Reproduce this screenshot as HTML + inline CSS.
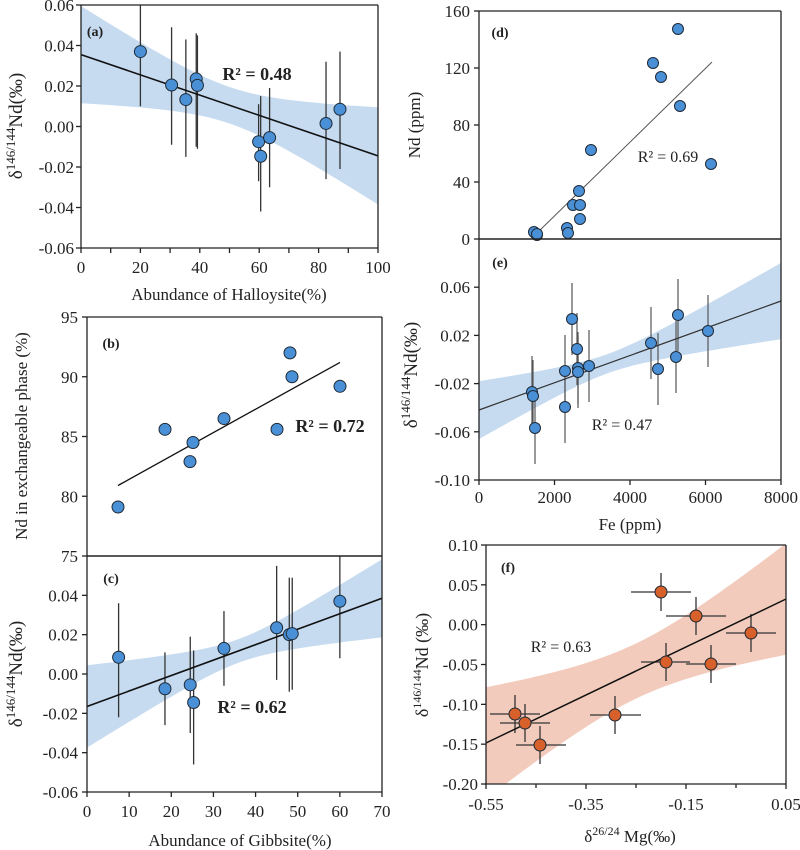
<!DOCTYPE html>
<html><head><meta charset="utf-8"><style>
html,body{margin:0;padding:0;background:#fff}
svg{display:block}
text{font-family:"Liberation Serif",serif;fill:#222}
</style></head><body>
<svg id="s" width="800" height="850" xmlns="http://www.w3.org/2000/svg"></svg>
<script>
var S=document.getElementById('s'),NS='http://www.w3.org/2000/svg';
function el(t,a,txt){var e=document.createElementNS(NS,t);for(var k in a)e.setAttribute(k,a[k]);if(txt!=null)e.textContent=txt;S.appendChild(e);return e;}
function line(x1,y1,x2,y2,c,w){el('line',{x1:x1,y1:y1,x2:x2,y2:y2,stroke:c||'#222','stroke-width':w||1.3});}
function txt(x,y,s,o){o=o||{};var a={x:x,y:y,'font-size':o.fs||17,'text-anchor':o.a||'middle'};if(o.b)a['font-weight']='bold';el('text',a,s);}
function band(X,Y,x0,x1,f,hw,col,clip){var up=[],lo=[];for(var i=0;i<=60;i++){var x=x0+(x1-x0)*i/60;up.push(X(x)+','+Y(f(x)+hw(x)));lo.unshift(X(x)+','+Y(f(x)-hw(x)));}
var p=el('polygon',{points:up.concat(lo).join(' '),fill:col});if(clip)p.setAttribute('clip-path','url(#'+clip+')');}
function clipRect(id,x,y,w,h){var d=el('defs',{});var c=document.createElementNS(NS,'clipPath');c.setAttribute('id',id);var r=document.createElementNS(NS,'rect');r.setAttribute('x',x);r.setAttribute('y',y);r.setAttribute('width',w);r.setAttribute('height',h);c.appendChild(r);d.appendChild(c);}
function dot(x,y,c,r){el('circle',{cx:x,cy:y,r:r||6,fill:c||'#4a90d6',stroke:'#1f2a36','stroke-width':1});}
var BAND='#c6dbf0';

/* ---------- Panel a ---------- */
(function(){
var X=function(v){return 81+v*2.97},Y=function(v){return 5+(0.06-v)*2025};
clipRect('ca',81,5,297,243);
var f=function(x){return 0.0355-0.0005*x},hw=function(x){return Math.sqrt(0.000081+1.98e-7*(x-50)*(x-50))};
band(X,Y,0,100,f,hw,BAND,'ca');
var d=[[20,.037,.010,.07],[30.5,.0205,-.009,.049],[35.3,.0133,-.015,.043],[38.8,.0235,-.010,.046],[39.2,.0203,-.011,.045],[59.8,-.0075,-.027,.011],[60.5,-.0147,-.042,.015],[63.5,-.0055,-.030,.019],[82.5,.0015,-.026,.032],[87.2,.0085,-.021,.037]];
d.forEach(function(p){line(X(p[0]),Math.max(5,Y(p[3])),X(p[0]),Y(p[2]),'#333',1.3)});
line(X(0),Y(f(0)),X(100),Y(f(100)),'#111',1.6);
d.forEach(function(p){dot(X(p[0]),Y(p[1]))});
line(81,5,81,248);line(81,248,378,248);line(378,5,378,248);line(81,5,378,5);
for(var i=0;i<=6;i++){var v=0.06-i*0.02,y=Y(v);line(76,y,81,y);txt(74,y+6,(v<-1e-9?'-':'')+Math.abs(v).toFixed(2),{a:'end'});}
for(var i=0;i<=10;i++){var x=X(i*10);line(x,248,x,253);if(i%2==0)txt(x,273,String(i*10));}
txt(229,300,'Abundance of Halloysite(%)');
txt(95,36,'(a)',{fs:14,b:1});
txt(257,80,'R² = 0.48',{fs:18,b:1});
var t=el('text',{transform:'translate(22,126) rotate(-90)','text-anchor':'middle','font-size':19});
t.innerHTML='δ<tspan font-size="13" dy="-7">146/144</tspan><tspan dy="7">Nd(‰)</tspan>';
})();

/* ---------- Panel b ---------- */
(function(){
var X=function(v){return 87+v*295/70},Y=function(v){return 317+(95-v)*11.95};
line(118,Y(80.9),340,Y(91.2),'#111',1.3);
[[118,79.1],[165,85.6],[190,82.9],[193,84.5],[224,86.5],[277,85.6],[290,92],[292,90],[340,89.2]].forEach(function(p){dot(p[0],Y(p[1]))});
line(87,317,87,556);line(382,317,382,556);line(87,317,382,317);
for(var i=0;i<=4;i++){var v=95-i*5,y=Y(v);line(82,y,87,y);txt(78,y+6,String(v),{a:'end'});}
txt(111,348,'(b)',{fs:14,b:1});
txt(330,432,'R² = 0.72',{fs:18,b:1});
el('text',{transform:'translate(27,436) rotate(-90)','text-anchor':'middle','font-size':17},'Nd in exchangeable phase (%)');
})();

/* ---------- Panel c ---------- */
(function(){
var X=function(v){return 87+v*295/70},Y=function(v){return 556+(0.06-v)*(236/0.12)};
clipRect('cc',87,556,295,236);
var f=function(x){return -0.0165+0.0055*x/7},hw=function(x){return Math.sqrt(0.000036+3.1e-7*(x-36)*(x-36))};
band(X,Y,0,70,f,hw,BAND,'cc');
var d=[[7.5,.0085,-.022,.036],[18.5,-.0075,-.026,.011],[24.5,-.0055,-.030,.019],[25.3,-.0145,-.046,.012],[32.5,.013,-.006,.032],[45,.0235,-.003,.055],[48,.020,-.009,.049],[48.7,.0205,-.008,.049],[60,.037,.008,.07]];
d.forEach(function(p){line(X(p[0]),Math.max(556,Y(p[3])),X(p[0]),Y(p[2]),'#333',1.3)});
line(X(0),Y(f(0)),X(70),Y(f(70)),'#111',1.6);
d.forEach(function(p){dot(X(p[0]),Y(p[1]))});
line(87,556,87,792);line(87,792,382,792);line(382,556,382,792);line(87,556,382,556,'#222',1.5);
[0.04,0.02,0,-0.02,-0.04,-0.06].forEach(function(v){var y=Y(v);line(82,y,87,y);txt(78,y+6,(v<-1e-9?'-':'')+Math.abs(v).toFixed(2),{a:'end'});});
for(var i=0;i<=7;i++){var x=X(i*10);line(x,792,x,797);txt(x,817,String(i*10));}
txt(240,846,'Abundance of Gibbsite(%)');
txt(111,583,'(c)',{fs:14,b:1});
txt(252,713,'R² = 0.62',{fs:18,b:1});
var t=el('text',{transform:'translate(22,674) rotate(-90)','text-anchor':'middle','font-size':19});
t.innerHTML='δ<tspan font-size="13" dy="-7">146/144</tspan><tspan dy="7">Nd(‰)</tspan>';
})();

/* ---------- Panel d ---------- */
(function(){
var Y=function(v){return 239-v*228/160};
line(536,234,712,62,'#555',1);
[[678,29],[653,63],[661,77],[680,106],[711,164],[591,150],[579,191],[573,205],[580,205],[580,219],[567,228],[568,233],[535,233],[537,235],[534,232],[537,234]].forEach(function(p){dot(p[0],p[1],null,5.5)});
line(479,11,479,239);line(781,11,781,239);line(479,11,781,11);line(479,239,781,239,'#222',1.5);
for(var i=0;i<=4;i++){var v=i*40,y=Y(v);line(474,y,479,y);txt(470,y+6,String(v),{a:'end'});}
txt(500,37,'(d)',{fs:14,b:1});
txt(668,162,'R² = 0.69',{fs:16});
el('text',{transform:'translate(420,125) rotate(-90)','text-anchor':'middle','font-size':17},'Nd  (ppm)');
})();

/* ---------- Panel e ---------- */
(function(){
var X=function(v){return 479+v*302/8000},Y=function(v){return 239+(0.10-v)*1205};
clipRect('ce',479,239,302,241);
var f=function(x){return -0.042+0.0905*x/8000},hw=function(x){return Math.sqrt(6.4e-5+4.43e-11*(x-3400)*(x-3400))};
band(X,Y,0,8000,f,hw,BAND,'ce');
var d=[[532,392],[533,396],[535,428],[572,319],[565,371],[565,407],[577,349],[578,368],[578,372],[589,366],[651,343],[658,369],[676,357],[678,315],[708,331]];
d.forEach(function(p){line(p[0],p[1]-36,p[0],p[1]+36,'#555',1.2)});
line(479,410,781,301,'#333',1.2);
d.forEach(function(p){dot(p[0],p[1],null,5.5)});
line(479,239,479,480);line(479,480,781,480);line(781,239,781,480);
[0.06,0.02,-0.02,-0.06,-0.10].forEach(function(v){var y=Y(v);line(474,y,479,y);txt(470,y+6,(v<-1e-9?'-':'')+Math.abs(v).toFixed(2),{a:'end'});});
for(var i=0;i<=4;i++){var x=X(i*2000);line(x,480,x,485);txt(x,503,String(i*2000));}
txt(630,530,'Fe (ppm)');
txt(500,267,'(e)',{fs:14,b:1});
txt(622,430,'R² = 0.47',{fs:16});
var t=el('text',{transform:'translate(417,375) rotate(-90)','text-anchor':'middle','font-size':19});
t.innerHTML='δ<tspan font-size="13" dy="-7">146/144</tspan><tspan dy="7">Nd(‰)</tspan>';
})();

/* ---------- Panel f ---------- */
(function(){
var X=function(v){return 486+(v+0.55)*500},Y=function(v){return 545+(0.10-v)*796.7};
clipRect('cf',486,545,300,239);
var f=function(x){return -0.1485+0.301*(x+0.55)},hw=function(x){return Math.sqrt(0.0012+0.041*(x+0.25)*(x+0.25))};
band(X,Y,-0.55,0.05,f,hw,'#f2cbbc','cf');
var d=[[661,592,631,691],[696,616,666,726],[751,633,726,776],[666,662,641,690],[711,664,686,736],[615,715,590,641],[515,714,490,540],[525,723,500,550],[540,745,516,566]];
d.forEach(function(p){line(p[2],p[1],p[3],p[1],'#333',1.3);line(p[0],p[1]-19,p[0],p[1]+19,'#333',1.3)});
line(486,743,786,599,'#111',1.5);
d.forEach(function(p){dot(p[0],p[1],'#d8602a',6)});
line(486,545,486,784);line(486,784,786,784);line(786,545,786,784);line(486,545,786,545);
[0.10,0.05,0,-0.05,-0.10,-0.15,-0.20].forEach(function(v){var y=Y(v);line(481,y,486,y);txt(478,y+6,(v<-1e-9?'-':'')+Math.abs(v).toFixed(2),{a:'end'});});
[-0.55,-0.35,-0.15,0.05].forEach(function(v){var x=X(v);line(x,784,x,789);txt(x,810,(v<0?'-':'')+Math.abs(v).toFixed(2));});
for(var v=-0.45;v<0;v+=0.2){var x=X(v);line(x,784,x,788);}
txt(508,572,'(f)',{fs:14,b:1});
txt(561,652,'R² = 0.63',{fs:16});
var t=el('text',{x:630,y:842,'text-anchor':'middle','font-size':17});
t.innerHTML='δ<tspan font-size="12" dy="-7">26/24</tspan><tspan dy="7">  Mg(‰)</tspan>';
var t2=el('text',{transform:'translate(428,665) rotate(-90)','text-anchor':'middle','font-size':18});
t2.innerHTML='δ<tspan font-size="12" dy="-7">146/144</tspan><tspan dy="7">Nd (‰)</tspan>';
})();
</script>
</body></html>
